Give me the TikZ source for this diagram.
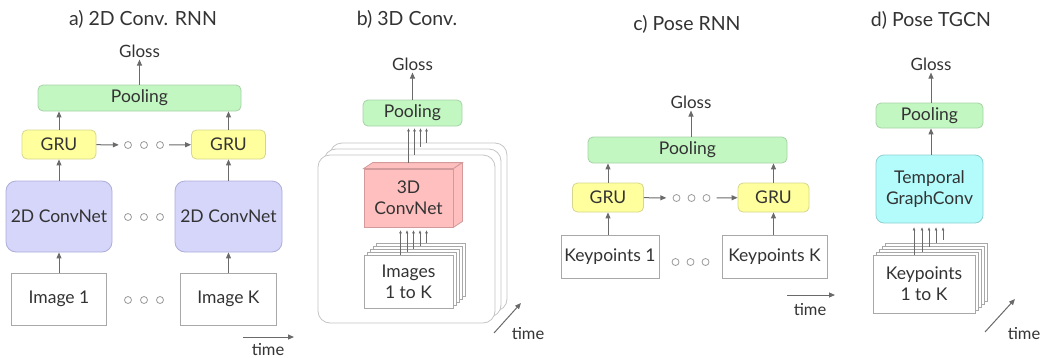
\documentclass[tikz,border=0pt]{standalone}
\usepackage{fontspec}
\setmainfont{Lato}
\usepackage{tikz}
\usetikzlibrary{arrows.meta}
\usetikzlibrary{calc}
\definecolor{txt}{HTML}{333333}
\definecolor{arrline}{HTML}{6A6A6A}
\definecolor{boxline}{HTML}{A8A8A8}
\definecolor{frameline}{HTML}{C4C4C4}
\definecolor{dotline}{HTML}{9A9A9A}
\definecolor{poolfill}{HTML}{C2F7C2}
\definecolor{poolline}{HTML}{A6D2A6}
\definecolor{grufill}{HTML}{FFFF9E}
\definecolor{gruline}{HTML}{D6D68C}
\definecolor{cnnfill}{HTML}{D6D6FA}
\definecolor{cnnline}{HTML}{ADADDA}
\definecolor{cubefill}{HTML}{FFBFBF}
\definecolor{cubeline}{HTML}{D29A9A}
\definecolor{tgcnfill}{HTML}{B4FCFC}
\definecolor{tgcnline}{HTML}{8ECFCF}

\begin{document}
\begin{tikzpicture}[x=1pt, y=-1pt,
    every node/.style={text=txt, font=\fontsize{17.5}{21}\selectfont},
    unit/.style={draw=boxline, fill=white, line width=0.8pt, inner sep=0pt, align=center},
    pool/.style={unit, draw=poolline, fill=poolfill, rounded corners=5pt},
    gru/.style={unit, draw=gruline, fill=grufill, rounded corners=5pt},
    cnn/.style={unit, draw=cnnline, fill=cnnfill, rounded corners=10pt},
    cube/.style={unit, draw=cubeline, fill=cubefill},
    tgcn/.style={unit, draw=tgcnline, fill=tgcnfill, rounded corners=8pt},
    sheet/.style={draw=boxline, fill=white, line width=0.6pt},
    frame/.style={draw=frameline, fill=white, line width=0.8pt, rounded corners=12pt},
    title/.style={font=\fontsize{19.5}{22}\selectfont},
    gloss/.style={font=\fontsize{17}{18}\selectfont, inner sep=2pt},
    timelabel/.style={font=\fontsize{16.5}{18}\selectfont},
    dots/.style={minimum width=50pt, minimum height=8pt, inner sep=0pt},
    dotc/.style={draw=dotline, line width=0.8pt},
    arr/.style={draw=arrline, line width=1pt, -{Triangle[length=6pt, width=5pt]}},
    thinarr/.style={draw=arrline, line width=0.5pt, -{Triangle[length=3pt, width=2.5pt]}}
]
    \useasboundingbox (0,0) rectangle (1042,357);

    % a) 2D Conv. RNN
    \node[title] (titleA) at (143,19) {a) 2D Conv. RNN};
    \node[pool, minimum width=203pt, minimum height=26pt] (poolA) at (139.5,98) {Pooling};
    \node[gloss] (glossA) at (139.5,51) {Gloss};
    \node[gru, minimum width=74pt, minimum height=29pt] (gruA1) at (59,144.5) {GRU};
    \node[gru, minimum width=74pt, minimum height=29pt] (gruAK) at (228.5,144.5) {GRU};
    \node[cnn, minimum width=106pt, minimum height=71pt] (cnnA1) at (59,216.5) {2D ConvNet};
    \node[cnn, minimum width=107pt, minimum height=71pt] (cnnAK) at (228.5,216.5) {2D ConvNet};
    \node[unit, minimum width=95pt, minimum height=52pt] (imgA1) at (59,299) {Image 1};
    \node[unit, minimum width=96pt, minimum height=52pt] (imgAK) at (228.5,299) {Image K};
    \node[dots] (dA1) at (144,145) {};
    \node[dots] (dA2) at (144,217) {};
    \node[dots] (dA3) at (144,300) {};
    \foreach \n in {dA1,dA2,dA3}
        \foreach \d in {-16,0,16}
            \draw[dotc] ($(\n)+(\d,0)$) circle (3.5pt);

    \draw[arr] (imgA1) -- (cnnA1);
    \draw[arr] (imgAK) -- (cnnAK);
    \draw[arr] (cnnA1) -- (gruA1);
    \draw[arr] (cnnAK) -- (gruAK);
    \draw[arr] (gruA1) -- (gruA1 |- poolA.south);
    \draw[arr] (gruAK) -- (gruAK |- poolA.south);
    \draw[arr] (gruA1) -- (dA1);
    \draw[arr] (dA1) -- (gruAK);
    \draw[arr] (poolA) -- (glossA);

    \coordinate (tA0) at (243,337);
    \coordinate (tA1) at (294,337);
    \draw[arr] (tA0) -- (tA1);
    \node[timelabel, anchor=base] (timeA) at (268,355.5) {time};

    % b) 3D Conv.
    \node[title] (titleB) at (407,19) {b) 3D Conv.};
    \foreach \k in {2,1,0}
        \draw[frame] (318+6*\k,155-6*\k) rectangle (495+6*\k,323-6*\k);
    \node[pool, minimum width=99pt, minimum height=26pt] (poolB) at (412.5,113) {Pooling};
    \node[gloss] (glossB) at (412.5,64) {Gloss};
    \draw[arr] (poolB) -- (glossB);

    % 3D block: front face is the node, top and side faces drawn from it
    \node[cube, minimum width=89pt, minimum height=58pt] (cnnB) at (408.5,198) {3D\\ConvNet};
    \draw[cube] (cnnB.north west) -- ++(9,-6) -- ($(cnnB.north east)+(9,-6)$)
        -- (cnnB.north east) -- cycle;
    \draw[cube] (cnnB.north east) -- ($(cnnB.north east)+(9,-6)$)
        -- ($(cnnB.south east)+(9,-6)$) -- (cnnB.south east) -- cycle;

    % stack of images
    \foreach \k in {4,3,2,1}
        \draw[sheet] (364+3*\k,255-3*\k) rectangle ++(89,53);
    \node[unit, line width=0.6pt, minimum width=89pt, minimum height=53pt] (imgB) at (408.5,281.5) {Images\\1 to K};

    \foreach \dx/\dy in {-8/0, -1.5/3, 5/6, 11.5/9, 18/12} {
        \path ($(imgB.north)+(\dx,-\dy)$) coordinate (s);
        \draw[thinarr, shorten >=3pt] (s) -- (s |- cnnB.south);
    }
    \foreach \dx/\dy in {0/6, 6/14, 12/22, 18/26} {
        \path ($(cnnB.north)+(\dx,-\dy)$) coordinate (s);
        \draw[thinarr, shorten >=2pt] (s) -- (s |- poolB.south);
    }

    \coordinate (tB0) at (494,333);
    \coordinate (tB1) at (521,303);
    \draw[arr] (tB0) -- (tB1);
    \node[timelabel] (timeB) at (528,334) {time};

    % c) Pose RNN
    \node[title] (titleC) at (687,24) {c) Pose RNN};
    \node[pool, minimum width=199pt, minimum height=26pt] (poolC) at (687.5,150) {Pooling};
    \node[gloss] (glossC) at (691,102) {Gloss};
    \node[gru, minimum width=71pt, minimum height=29pt] (gruC1) at (608,197.5) {GRU};
    \node[gru, minimum width=71pt, minimum height=29pt] (gruCK) at (773.5,197.5) {GRU};
    \node[unit, minimum width=98pt, minimum height=43pt] (kpC1) at (610,256.5) {Keypoints 1};
    \node[unit, minimum width=105pt, minimum height=43pt] (kpCK) at (774.5,256.5) {Keypoints K};
    \node[dots] (dC1) at (691.5,198) {};
    \node[dots] (dC2) at (690.5,262) {};
    \foreach \n in {dC1,dC2}
        \foreach \d in {-15,0,15}
            \draw[dotc] ($(\n)+(\d,0)$) circle (3.5pt);

    \draw[arr] (kpC1.north -| gruC1) -- (gruC1);
    \draw[arr] (kpCK.north -| gruCK) -- (gruCK);
    \draw[arr] (gruC1) -- (gruC1 |- poolC.south);
    \draw[arr] (gruCK) -- (gruCK |- poolC.south);
    \draw[arr] (gruC1) -- (dC1);
    \draw[arr] (dC1) -- (gruCK);
    \draw[arr] (poolC.north -| glossC) -- (glossC);

    \coordinate (tC0) at (787,295);
    \coordinate (tC1) at (835,295);
    \draw[arr] (tC0) -- (tC1);
    \node[timelabel] (timeC) at (810,310) {time};

    % d) Pose TGCN
    \node[title] (titleD) at (931,20) {d) Pose TGCN};
    \node[pool, minimum width=107pt, minimum height=25pt] (poolD) at (929.5,115.5) {Pooling};
    \node[gloss] (glossD) at (931,64) {Gloss};
    \node[tgcn, minimum width=107pt, minimum height=68pt] (tgcnD) at (929.5,189) {Temporal\\GraphConv};
    \draw[arr] (poolD.north -| glossD) -- (glossD);
    \draw[arr] (tgcnD.north -| glossD) -- (poolD.south -| glossD);

    % stack of keypoint frames
    \foreach \k in {4,3,2,1}
        \draw[sheet] (873+3*\k,255-3*\k) rectangle ++(102,58);
    \node[unit, line width=0.6pt, minimum width=102pt, minimum height=58pt] (kpD) at (924,284) {Keypoints\\1 to K};

    \foreach \dx/\dy in {-10/0, -2/3, 5/8, 12/12, 19/15} {
        \path ($(kpD.north)+(\dx,-\dy)$) coordinate (s);
        \draw[thinarr, shorten >=4pt] (s) -- (s |- tgcnD.south);
    }

    \coordinate (tD0) at (985,332);
    \coordinate (tD1) at (1015,299);
    \draw[arr] (tD0) -- (tD1);
    \node[timelabel] (timeD) at (1024,334) {time};

\end{tikzpicture}
\end{document}
